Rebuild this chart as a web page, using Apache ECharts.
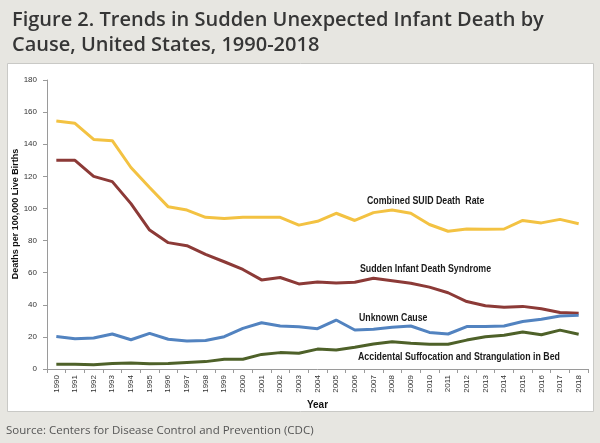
<!DOCTYPE html>
<html>
<head>
<meta charset="utf-8">
<script src="https://cdn.jsdelivr.net/npm/echarts@6/dist/echarts.min.js"></script>
<style>
html,body{margin:0;padding:0;background:#e7e6e1;}
#chart{width:600px;height:443px;}
</style>
</head>
<body>
<div id="chart"></div>
<script>
var years = ['1990','1991','1992','1993','1994','1995','1996','1997','1998','1999','2000','2001','2002','2003','2004','2005','2006','2007','2008','2009','2010','2011','2012','2013','2014','2015','2016','2017','2018'];
var combinedSUID = [154.5,153,143,142.2,125.5,113,101,99,94.5,93.8,94.5,94.5,94.5,89.6,92,97,92.5,97.4,99,97,90,85.8,87.2,87,87.2,92.5,91,93.2,90.5];
var sids = [130,130,120,116.7,103,86.5,78.7,76.8,71.4,66.8,62,55.5,57,53,54.2,53.6,54,56.5,55,53.4,51,47.5,42,39.4,38.5,39,37.5,35.2,34.7];
var unknownCause = [20.3,18.9,19.3,21.8,18.2,22.2,18.5,17.5,17.7,20.1,25.3,28.8,26.8,26.3,25.1,30.5,24.3,24.7,26,26.8,22.8,21.8,26.4,26.4,26.8,29.6,31,33,33.4];
var assb = [3,3,2.7,3.4,3.7,3.3,3.4,4.1,4.6,6.1,6.1,9.1,10.2,9.8,12.4,11.9,13.5,15.6,17,16,15.4,15.4,18,20.1,21,23,21.3,24.2,21.7];
var yTicks = {min:0, max:180, interval:20};

var chart = echarts.init(document.getElementById('chart'), null, {renderer:'canvas'});
var axisFont = "'Liberation Sans', Arial, sans-serif";
var noteStyle = function(txt, x, y){
  return {type:'text', x:x, y:y, z:10, scaleX:0.88, style:{text:txt, fill:'#1a1a1a', font:'bold 10px ' + axisFont, verticalAlign:'middle'}};
};
chart.setOption({
  backgroundColor:'#e7e6e1',
  animation:false,
  title:{
    text:'Figure 2. Trends in Sudden Unexpected Infant Death by\nCause, United States, 1990-2018',
    left:7, top:3,
    textStyle:{fontFamily:"'Open Sans', sans-serif", fontSize:20, fontWeight:600, color:'#363636', lineHeight:25}
  },
  graphic:[
    {type:'rect', z:-1, shape:{x:7.5, y:63.5, width:586, height:348}, style:{fill:'#ffffff', stroke:'#c9c9c6', lineWidth:1}},
    {type:'text', x:6, y:431, style:{text:'Source: Centers for Disease Control and Prevention (CDC)', fill:'#555555', font:"11.5px 'Open Sans', sans-serif", verticalAlign:'middle'}},
    {type:'text', x:16, y:214, rotation:Math.PI/2, z:10, style:{text:'Deaths per 100,000 Live Births', fill:'#111', font:'bold 9px ' + axisFont, align:'center', verticalAlign:'middle'}},
    noteStyle('Combined SUID Death  Rate', 367, 201),
    noteStyle('Sudden Infant Death Syndrome', 360, 269),
    noteStyle('Unknown Cause', 359, 318),
    noteStyle('Accidental Suffocation and Strangulation in Bed', 358, 357)
  ],
  grid:{left:47, right:12, top:80, bottom:74, containLabel:false},
  xAxis:{
    type:'category', data:years, boundaryGap:true,
    name:'Year', nameLocation:'middle', nameGap:27,
    nameTextStyle:{fontFamily:axisFont, fontWeight:'bold', fontSize:10, color:'#111'},
    axisLine:{lineStyle:{color:'#9a9a9a', width:1}},
    axisTick:{show:true, length:4, lineStyle:{color:'#9a9a9a'}},
    axisLabel:{rotate:90, fontFamily:axisFont, fontSize:8, color:'#333', margin:6, interval:0}
  },
  yAxis:{
    type:'value', min:yTicks.min, max:yTicks.max, interval:yTicks.interval,
    axisLine:{show:true, lineStyle:{color:'#9a9a9a', width:1}},
    axisTick:{show:true, length:4, lineStyle:{color:'#9a9a9a'}},
    axisLabel:{fontFamily:axisFont, fontSize:8, color:'#333', margin:10},
    splitLine:{show:false}
  },
  series:[
    {name:'Combined SUID Death Rate', type:'line', data:combinedSUID, symbol:'none', lineStyle:{color:'#f3c242', width:3}, itemStyle:{color:'#f3c242'}},
    {name:'Sudden Infant Death Syndrome', type:'line', data:sids, symbol:'none', lineStyle:{color:'#8c3a37', width:3}, itemStyle:{color:'#8c3a37'}},
    {name:'Unknown Cause', type:'line', data:unknownCause, symbol:'none', lineStyle:{color:'#5283c0', width:3}, itemStyle:{color:'#5283c0'}},
    {name:'Accidental Suffocation and Strangulation in Bed', type:'line', data:assb, symbol:'none', lineStyle:{color:'#4e6129', width:3}, itemStyle:{color:'#4e6129'}}
  ]
});
</script>
</body>
</html>
